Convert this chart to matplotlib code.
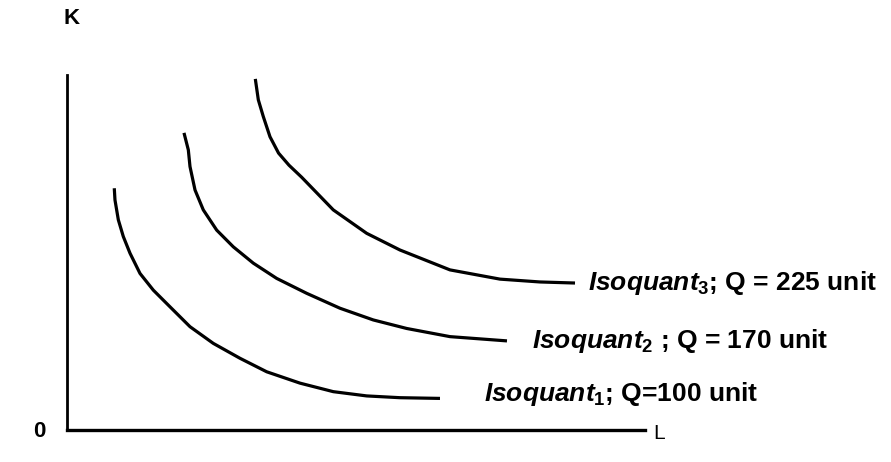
import matplotlib
matplotlib.use("Agg")
import matplotlib.pyplot as plt

plt.rcParams['font.family'] = ['Liberation Sans', 'DejaVu Sans']
plt.rcParams['mathtext.fontset'] = 'custom'
plt.rcParams['mathtext.rm'] = 'Liberation Sans:bold'
plt.rcParams['mathtext.it'] = 'Liberation Sans:italic:bold'
plt.rcParams['mathtext.bf'] = 'Liberation Sans:bold'

# Isoquant curves (L, K), axes scaled 0..100
iso1_L = [8.18, 8.30, 8.88, 9.74, 10.90, 12.63, 14.93, 17.82, 21.28, 25.31,
          29.93, 34.55, 40.31, 46.07, 51.85, 57.61, 64.53]
iso1_K = [68.1, 64.8, 59.2, 54.5, 49.8, 44.1, 39.4, 34.7, 29.1, 24.4,
          20.2, 16.4, 13.2, 10.8, 9.6, 9.1, 8.9]
iso2_L = [20.24, 20.99, 21.28, 22.15, 23.58, 25.90, 28.77, 32.23, 36.28,
          41.47, 47.23, 52.99, 58.77, 66.26, 76.12]
iso2_K = [83.7, 78.9, 74.2, 67.6, 62.0, 56.3, 51.6, 47.0, 42.7,
          38.5, 34.3, 31.0, 28.6, 26.3, 25.1]
iso3_L = [32.58, 33.10, 33.96, 35.12, 36.6, 38.4, 40.6, 46.07, 51.85,
          57.61, 66.26, 74.91, 81.83, 87.89]
iso3_K = [98.9, 93.0, 88.3, 82.6, 78.0, 74.6, 71.2, 62.0, 55.4,
          50.7, 45.1, 42.5, 41.7, 41.4]

labels = [r"$\mathit{Isoquant}_{1}$; Q=100 unit",
          r"$\mathit{Isoquant}_{2}$ ; Q = 170 unit",
          r"$\mathit{Isoquant}_{3}$; Q = 225 unit"]
label_pos = [(72.1, 10.2), (80.4, 25.1), (90.1, 41.4)]

W, H = 891, 462
fig = plt.figure(figsize=(W / 100, H / 100), dpi=100)
ax = fig.add_axes([67 / W, (H - 430) / H, 578 / W, 355 / H])
ax.set_xlim(0, 100)
ax.set_ylim(0, 100)
for s in ['top', 'right']:
    ax.spines[s].set_visible(False)
ax.spines['left'].set_linewidth(2.0)
ax.spines['bottom'].set_linewidth(2.4)
ax.set_xticks([])
ax.set_yticks([])

for Ls, Ks in [(iso1_L, iso1_K), (iso2_L, iso2_K), (iso3_L, iso3_K)]:
    ax.plot(Ls, Ks, color='black', lw=2.3, solid_capstyle='butt',
            solid_joinstyle='round', clip_on=False)

for txt, (x, y) in zip(labels, label_pos):
    ax.text(x, y, txt, fontsize=19, fontweight='bold', ha='left', va='center',
            clip_on=False)

ax.text(0.8, 116.0, "K", fontsize=16, fontweight='bold', ha='center', va='center',
        clip_on=False)
ax.text(-4.8, -0.5, "0", fontsize=16, fontweight='bold', ha='center', va='center',
        clip_on=False)
ax.text(102.5, -1, "L", fontsize=15, ha='center', va='center', clip_on=False)

fig.savefig("out.png", dpi=100)
